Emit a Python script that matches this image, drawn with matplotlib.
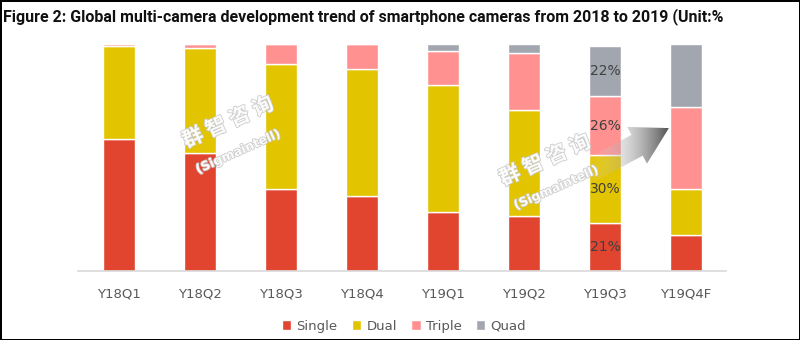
import numpy as np
import matplotlib.pyplot as plt
from matplotlib.patches import FancyArrowPatch
import matplotlib.patheffects as pe
from matplotlib.colors import LinearSegmentedColormap

quarters = ["Y18Q1", "Y18Q2", "Y18Q3", "Y18Q4", "Y19Q1", "Y19Q2", "Y19Q3", "Y19Q4F"]
single = [58, 52, 36, 33, 26, 24, 21, 16]
dual = [41, 46, 55, 56, 56, 47, 30, 20]
triple = [1, 2, 9, 11, 15, 25, 26, 36]
quad = [0, 0, 0, 0, 3, 4, 22, 28]
series_names = ["Single", "Dual", "Triple", "Quad"]
colors = ["#E1442F", "#E3C400", "#FF9191", "#A2A6AE"]
labelled = "Y19Q3"

fig = plt.figure(figsize=(8, 3.4), dpi=100)
fig.patch.set_edgecolor("black")
fig.patch.set_linewidth(2)
ax = fig.add_axes([0.098, 0.203, 0.81, 0.668])

x = np.arange(len(quarters))
bottom = np.zeros(len(quarters))
for name, vals, c in zip(series_names, [single, dual, triple, quad], colors):
    vals = np.array(vals, dtype=float)
    ax.bar(x, vals, 0.4, bottom=bottom, color=c, edgecolor="white",
           linewidth=1, label=name, zorder=2)
    i = quarters.index(labelled)
    if vals[i] > 0:
        ax.text(x[i], bottom[i] + vals[i] / 2, f"{vals[i]:.0f}%", ha="center",
                va="center", fontsize=10, color="#404040", zorder=5)
    bottom += vals

# gradient arrow Y19Q3 -> Y19Q4F
arrow = FancyArrowPatch((5.6, 40), (6.82, 63.5),
                        arrowstyle="simple,head_width=3.0,head_length=2.6,tail_width=1.7",
                        mutation_scale=10, facecolor="none", edgecolor="none", zorder=4)
ax.add_patch(arrow)
cmap = LinearSegmentedColormap.from_list("fade", [(1, 1, 1, 0), (0.6, 0.6, 0.6, 0.45), (0.22, 0.22, 0.22, 1)])
grad = np.linspace(0, 1, 200).reshape(1, -1)
im = ax.imshow(grad, extent=(5.75, 6.85, 35, 70), aspect="auto", cmap=cmap,
               zorder=4, origin="lower")
im.set_clip_path(arrow)

ax.set_xlim(-0.5, len(quarters) - 0.5)
ax.set_ylim(0, 100)
ax.set_xticks(x)
ax.set_xticklabels(quarters)
ax.tick_params(axis="x", length=0, pad=12, labelsize=9.5, labelcolor="#595959")
ax.set_yticks([])
for s in ["top", "right", "left"]:
    ax.spines[s].set_visible(False)
ax.spines["bottom"].set_color("#D9D9D9")
ax.spines["bottom"].set_linewidth(1.2)

fig.legend(loc="center", bbox_to_anchor=(0.505, 0.041), ncol=4, frameon=False,
           handlelength=0.7, handleheight=0.7, handletextpad=0.4, columnspacing=1.1,
           fontsize=9.5, labelcolor="#595959")

fig.text(0.004, 0.95, "Figure 2: Global multi-camera development trend of smartphone cameras from 2018 to 2019 (Unit:%",
         fontsize=11.5, fontweight="bold", family="Roboto", color="#111111", va="center", ha="left")

# watermarks
stroke = [pe.withStroke(linewidth=1.2, foreground="#C8C8C8")]
for (cx, cy), (sx, sy) in [((228, 122), (238, 152)), ((545, 160), (556, 188))]:
    fig.text(cx / 800, 1 - cy / 340, "群 智 咨 询", family=["Noto Sans CJK SC", "DejaVu Sans"],
             fontsize=15, fontweight="bold", color="white", rotation=24, alpha=0.9,
             ha="center", va="center", path_effects=stroke, zorder=6)
    fig.text(sx / 800, 1 - sy / 340, "(Sigmaintell)", fontsize=9, fontweight="bold",
             color="white", rotation=24, ha="center", va="center", alpha=0.9,
             path_effects=stroke, zorder=6)

fig.savefig("out.png", dpi=100, edgecolor=fig.get_edgecolor())
